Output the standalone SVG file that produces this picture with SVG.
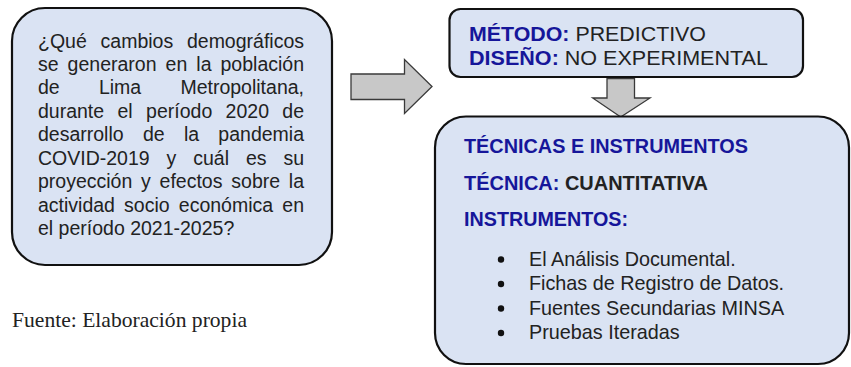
<svg xmlns="http://www.w3.org/2000/svg" width="851" height="367" viewBox="0 0 851 367">
<style>
.box{fill:#dae3f3;stroke:#111;stroke-width:2.2}
.arrow{fill:#c8c8c8;stroke:#3a3a3a;stroke-width:1.3;stroke-linejoin:miter}
.t{font-family:"Liberation Sans",Arial,sans-serif;font-size:19.5px;fill:#222}
.b{font-weight:bold}
.blue{fill:#16169a}
.src{font-family:"Liberation Serif","Times New Roman",serif;font-size:21px;fill:#222}
.end{text-anchor:end}
</style>
<rect width="851" height="367" fill="#fff"/>
<g id="connectors">
<path class="arrow" d="M351,74 H404.5 V59.5 L432,86.5 L404.5,113.5 V99.5 H351 Z"/>
<path class="arrow" d="M607,78.5 H634.5 V98 H650 L620.7,117 L592.7,98 H607 Z"/>
</g>
<g id="pregunta">
<rect class="box" x="12" y="8" width="320" height="257" rx="33" ry="33"/>
<text class="t" y="47.5"><tspan x="38">¿Qué</tspan><tspan x="100.6">cambios</tspan><tspan x="304" class="end" text-anchor="end">demográficos</tspan></text>
<text class="t" y="71"><tspan x="38">se</tspan><tspan x="67.6">generaron</tspan><tspan x="165.6">en</tspan><tspan x="196.3">la</tspan><tspan x="304" text-anchor="end">población</tspan></text>
<text class="t" y="94.4"><tspan x="38">de</tspan><tspan x="98.9">Lima</tspan><tspan x="304" text-anchor="end">Metropolitana,</tspan></text>
<text class="t" y="117.9"><tspan x="38">durante</tspan><tspan x="117.5">el</tspan><tspan x="146.1">período</tspan><tspan x="225.6">2020</tspan><tspan x="304" text-anchor="end">de</tspan></text>
<text class="t" y="141.3"><tspan x="38">desarrollo</tspan><tspan x="142.9">de</tspan><tspan x="183.9">la</tspan><tspan x="304" text-anchor="end">pandemia</tspan></text>
<text class="t" y="164.8"><tspan x="38">COVID-2019</tspan><tspan x="166.5">y</tspan><tspan x="193.2">cuál</tspan><tspan x="245.9">es</tspan><tspan x="304" text-anchor="end">su</tspan></text>
<text class="t" y="188.2"><tspan x="38">proyección</tspan><tspan x="141.1">y</tspan><tspan x="159.6">efectos</tspan><tspan x="231.3">sobre</tspan><tspan x="304" text-anchor="end">la</tspan></text>
<text class="t" y="211.7"><tspan x="38">actividad</tspan><tspan x="124.1">socio</tspan><tspan x="178.8">económica</tspan><tspan x="304" text-anchor="end">en</tspan></text>
<text class="t" x="38" y="235.1">el período 2021-2025?</text>
</g>
<g id="metodo">
<rect class="box" x="449.5" y="9" width="353.5" height="68" rx="11" ry="11"/>
<text class="t" x="469" y="40.5" style="font-size:20px" textLength="237" lengthAdjust="spacingAndGlyphs"><tspan class="b blue">MÉTODO:</tspan> PREDICTIVO</text>
<text class="t" x="469" y="65" style="font-size:20px" textLength="299" lengthAdjust="spacingAndGlyphs"><tspan class="b blue">DISEÑO:</tspan> NO EXPERIMENTAL</text>
</g>
<g id="tecnicas">
<rect class="box" x="435" y="116.5" width="414" height="247.5" rx="31" ry="31"/>
<text class="t b blue" x="464" y="153" style="font-size:19.8px" textLength="284" lengthAdjust="spacingAndGlyphs">TÉCNICAS E INSTRUMENTOS</text>
<text class="t b" x="464" y="190" style="font-size:19.8px" textLength="244" lengthAdjust="spacingAndGlyphs"><tspan class="blue">TÉCNICA:</tspan> CUANTITATIVA</text>
<text class="t b blue" x="464" y="226" style="font-size:19.8px" textLength="164" lengthAdjust="spacingAndGlyphs">INSTRUMENTOS:</text>
<g fill="#111">
<circle cx="501" cy="259.5" r="3.2"/>
<circle cx="501" cy="284" r="3.2"/>
<circle cx="501" cy="308.5" r="3.2"/>
<circle cx="501" cy="333" r="3.2"/>
</g>
<text class="t" x="529" y="265.5" style="font-size:19.8px">El Análisis Documental.</text>
<text class="t" x="529" y="290" style="font-size:19.8px">Fichas de Registro de Datos.</text>
<text class="t" x="529" y="314.5" style="font-size:19.8px">Fuentes Secundarias MINSA</text>
<text class="t" x="529" y="339" style="font-size:19.8px">Pruebas Iteradas</text>
</g>
<text class="src" x="12" y="327" textLength="235" lengthAdjust="spacingAndGlyphs">Fuente: Elaboración propia</text>
</svg>
